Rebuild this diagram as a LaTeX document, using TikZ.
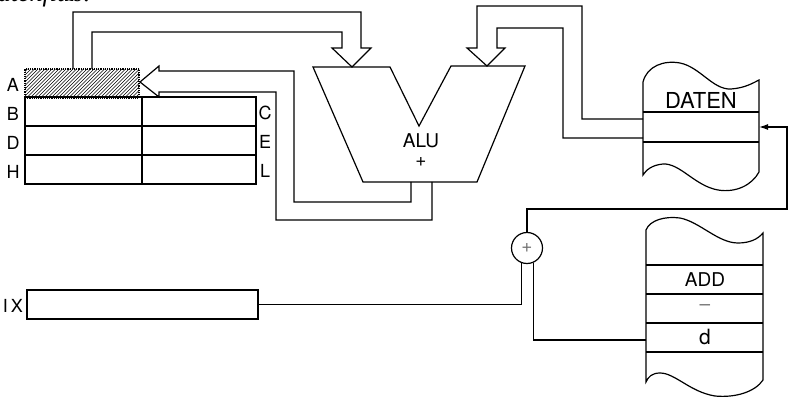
\documentclass[tikz,border=0pt]{standalone}
\usepackage{fontspec}
\setmainfont{TeX Gyre Heros}
\newfontfamily\titelfont{Liberation Serif}
\usetikzlibrary{arrows.meta,positioning}

\tikzset{
  reg/.style={draw, line width=1.2pt, minimum width=117pt, minimum height=29pt,
    inner sep=0pt, outer sep=0pt, anchor=north west},
  lbl/.style={inner sep=0pt, font=\fontsize{18}{18}\selectfont},
  gross/.style={inner sep=0pt, font=\fontsize{19}{19}\selectfont},
  bus/.style={line width=1.2pt, line join=miter},
  leitung/.style={line width=1.2pt},
}

\begin{document}
\begin{tikzpicture}[x=1pt, y=-1pt]
		\useasboundingbox (0,0) rectangle (789,398);
		% Ueberschrift (oben abgeschnitten)
		\node[inner sep=0pt, anchor=base east, font=\titelfont\itshape\fontsize{26}{26}\selectfont] (titel) at (92,2) {Datenfluß:};
		
		% Registersatz
		\node[reg, minimum width=114pt, densely dotted] (A) at (25,69) {};
		\begin{scope}
			\clip (A.south west) rectangle (A.north east);
			\foreach \k in {-30,-26.5,...,140}
				\draw[line width=0.6pt] (25+\k,98) -- ++(29,-29);
		\end{scope}
		\node[reg] (B) at (25,97) {};
		\node[reg, minimum width=114pt] (C) at (142,97) {};
		\node[reg] (D) at (25,126) {};
		\node[reg, minimum width=114pt] (E) at (142,126) {};
		\node[reg] (H) at (25,155) {};
		\node[reg, minimum width=114pt] (L) at (142,155) {};
		\node[lbl] (labA) at (13,85) {A};
		\node[lbl] (labB) at (13,114) {B};
		\node[lbl] (labD) at (13,143) {D};
		\node[lbl] (labH) at (13,172) {H};
		\node[lbl] (labC) at (265,113) {C};
		\node[lbl] (labE) at (265,142) {E};
		\node[lbl] (labL) at (265,171) {L};
		
		% Indexregister
		\node[reg, minimum width=231pt] (IX) at (27,290) {};
		\node[lbl] (labIX) at (13,306) {I\,X};
		
		% ALU
		\draw[leitung] (313,67) -- (390,67) -- (419,126) -- (451,66) -- (525,66) -- (477,182) -- (363,182) -- cycle;
		\node[gross] (alu) at (421,141) {ALU};
		\node[gross] (aluplus) at (421,162) {+};
		
		% Bus: A -> ALU links
		\draw[bus] (73,69) -- (73,12) -- (361,12) -- (361,48) -- (371,48) -- (352,67)
			-- (332,48) -- (342,48) -- (342,32) -- (92,32) -- (92,69);
		% Bus: ALU -> A
		\draw[bus] (411,182) -- (411,202) -- (294,202) -- (294,71) -- (159,71) -- (159,66)
			-- (140,82) -- (159,97) -- (159,92) -- (276,92) -- (276,220) -- (432,220) -- (432,182);
		% Bus: DATEN -> ALU rechts
		\draw[bus] (643,119) -- (582,119) -- (582,6) -- (477,6) -- (477,48) -- (467,48) -- (487,66)
			-- (505,48) -- (497,48) -- (497,28) -- (563,28) -- (563,138) -- (643,138);
		
		% Datenspeicher
		\draw[leitung] (643,82) .. controls (647,66) and (664,60) .. (680,63)
			.. controls (700,67) and (713,90) .. (731,89) .. controls (745,88) and (753,83) .. (759,80)
			-- (759,172) .. controls (752,185) and (736,193) .. (718,190)
			.. controls (695,186) and (680,163) .. (663,164) .. controls (652,165) and (646,170) .. (643,175) -- cycle;
		\draw[leitung] (643,112) -- (759,112);
		\draw[leitung] (643,142) -- (759,142);
		\node[inner sep=0pt, font=\fontsize{22}{22}\selectfont] (daten) at (701,100) {DATEN};
		\coordinate (datenAdr) at (759,127);
		
		% Programmspeicher
		\draw[leitung] (646,230) .. controls (650,220) and (665,216) .. (680,218)
			.. controls (700,222) and (718,243) .. (738,243) .. controls (750,243) and (758,239) .. (763,233)
			-- (763,380) .. controls (755,392) and (735,398) .. (715,396)
			.. controls (690,392) and (675,373) .. (660,373) .. controls (652,373) and (648,377) .. (646,382) -- cycle;
		\foreach \yy in {265,294,323,352}
			\draw[leitung] (646,\yy) -- (763,\yy);
		\node[gross] (add) at (705,280) {ADD};
		\node[gross, text=black!55] (strich) at (705,308) {--};
		\node[gross, font=\fontsize{21}{21}\selectfont] (dd) at (705,337) {d};
		\coordinate (dIn) at (646,340);
		
		% Addierer
		\node[draw, circle, line width=1.2pt, minimum size=31pt, inner sep=0pt] (sum) at (527,248) {};
		\node[gross, text=black!55] at (sum) {+};
		
		% Adressleitungen
		\draw[leitung, -{Latex[length=9pt, width=6pt]}] (sum.north) -- (527,209) -- (787,209) -- (787,127) -- (datenAdr);
		\draw[leitung] (IX.east) -| (sum.-110);
		\draw[leitung] (sum.-65) |- (dIn);
	\end{tikzpicture}
\end{document}
